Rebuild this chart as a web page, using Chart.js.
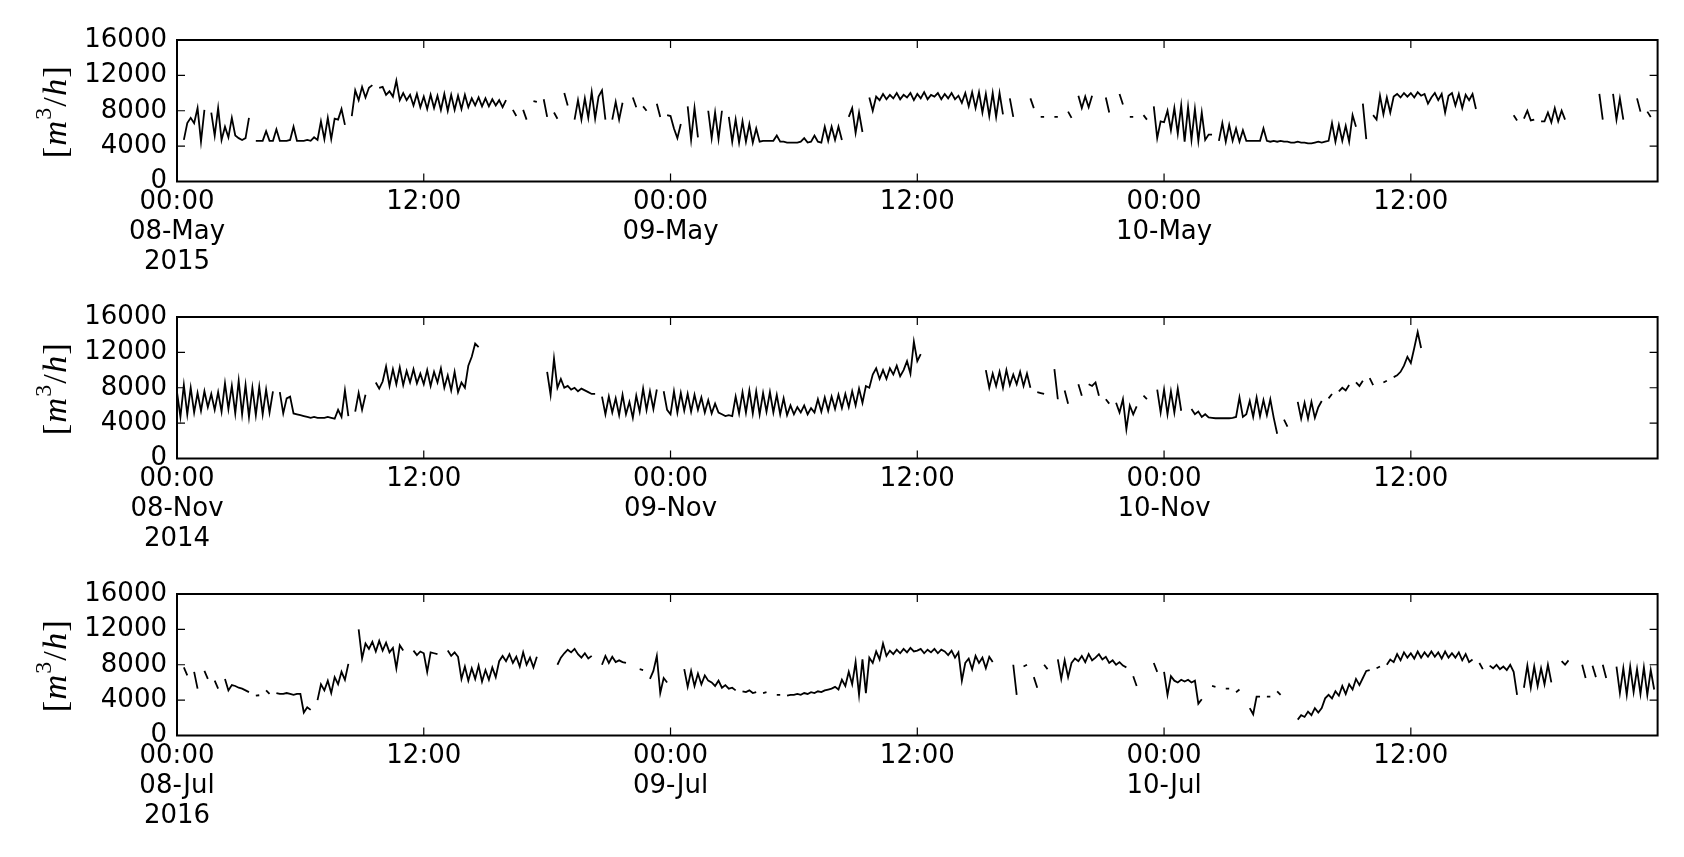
<!DOCTYPE html>
<html>
<head>
<meta charset="utf-8">
<script src="https://cdn.jsdelivr.net/npm/chart.js@4.4.1/dist/chart.umd.min.js"></script>
<style>
  html, body { margin: 0; padding: 0; background: #fff; }
  body { width: 1684px; height: 857px; position: relative; overflow: hidden; }
  .panel { position: absolute; left: 0; width: 1684px; height: 276px; }
</style>
</head>
<body>
<div class="panel" style="top:0px"><canvas id="c1" width="1684" height="276"></canvas></div>
<div class="panel" style="top:276.8px"><canvas id="c2" width="1684" height="276"></canvas></div>
<div class="panel" style="top:553.5px"><canvas id="c3" width="1684" height="276"></canvas></div>
<script>
const _ = null;

// sampling step of the series, in hours (10 minutes)
const stepHours = 1 / 6;

// y axis ticks
const yTicks = [0, 4000, 8000, 12000, 16000];

// x axis tick positions (hours since 00:00 of the first day)
const tickHours = [0, 12, 24, 36, 48, 60];

// x tick labels per panel
const ticksMay2015 = [["00:00", "08-May", "2015"], "12:00", ["00:00", "09-May"], "12:00", ["00:00", "10-May"], "12:00"];
const ticksNov2014 = [["00:00", "08-Nov", "2014"], "12:00", ["00:00", "09-Nov"], "12:00", ["00:00", "10-Nov"], "12:00"];
const ticksJul2016 = [["00:00", "08-Jul", "2016"], "12:00", ["00:00", "09-Jul"], "12:00", ["00:00", "10-Jul"], "12:00"];

// flow [m3/h], one row per hour, six 10-minute samples per row
const flowMay2015 = [
  _, _, 4700, 6600, 7200, 6600,
  8300, 4500, 8100, _, 7800, 5200,
  8300, 4700, 6200, 5000, 7200, 5200,
  4900, 4700, 4900, 7200, _, 4600,
  4600, 4600, 5700, 4600, 4600, 5900,
  4600, 4600, 4600, 4700, 6200, 4600,
  4600, 4600, 4700, 4600, 5000, 4700,
  6800, 4800, 7200, 4800, 7100, 7000,
  8200, 6400, _, 7400, 10300, 9200,
  10700, 9500, 10600, 10900, _, 10600,
  10700, 9800, 10200, 9600, 11400, 9200,
  10000, 9200, 9800, 8600, 9900, 8400,
  9600, 8200, 9800, 8300, 9700, 8100,
  9900, 8000, 9800, 8100, 9700, 8200,
  9800, 8400, 9400, 8600, 9500, 8500,
  9400, 8500, 9300, 8600, 9200, 8400,
  9200, _, 8100, 7400, _, 8100,
  7000, _, 9100, 9000, _, 9300,
  7300, _, 7800, 7100, _, 10000,
  8600, _, 7000, 9200, 7000, 9400,
  7200, 10100, 7100, 9600, 10300, 7000,
  _, 7000, 9000, 7000, 8900, _,
  _, 9500, 8400, _, 8500, 8000,
  _, _, 8800, 7300, _, 7500,
  7400, 6000, 4900, 6500, _, 8500,
  4700, 8300, 5000, _, _, 8000,
  4900, 7800, 4800, 8000, _, 7300,
  4500, 7000, 4400, 6800, 4500, 6500,
  4400, 6000, 4500, 4600, 4600, 4600,
  4600, 5200, 4500, 4500, 4400, 4400,
  4400, 4400, 4500, 4900, 4400, 4500,
  5200, 4500, 4400, 6200, 4600, 6200,
  4700, 6200, 4700, _, 7300, 8300,
  5500, 7800, 5600, _, 9500, 8000,
  9600, 9200, 9900, 9300, 9800, 9400,
  10000, 9300, 9800, 9500, 10000, 9200,
  9900, 9400, 10100, 9300, 9800, 9600,
  10000, 9300, 9900, 9400, 10000, 9300,
  9700, 8900, 10000, 8500, 10100, 8300,
  10100, 7800, 9900, 7400, 10000, 7300,
  10000, 7600, _, 9400, 7300, _,
  _, _, _, 9400, 8300, _,
  7300, 7300, _, _, 7300, 7300,
  _, _, 7900, 7200, _, 9700,
  8300, 9600, 8400, 9700, _, _,
  _, 9500, 7800, _, _, 9900,
  8700, _, 7300, 7300, _, _,
  7500, 7000, _, 8500, 4900, 6800,
  6700, 8000, 5800, 8300, 5400, 8600,
  4500, 8400, 4700, 8200, 4600, 7800,
  4700, 5300, 5300, _, 4600, 6600,
  4500, 6400, 4600, 6000, 4500, 5800,
  4600, 4600, 4600, 4600, 4600, 6000,
  4600, 4500, 4600, 4500, 4600, 4500,
  4500, 4400, 4400, 4500, 4400, 4400,
  4300, 4300, 4400, 4500, 4400, 4500,
  4600, 6600, 4500, 6400, 4600, 6300,
  4500, 7500, 6200, _, 8800, 4800,
  _, 7500, 7000, 9700, 7600, 9500,
  7800, 9600, 9900, 9500, 10000, 9600,
  10000, 9500, 10100, 9700, 9900, 8800,
  9500, 10000, 9200, 9900, 7800, 9700,
  10000, 8600, 9900, 8300, 9800, 9200,
  9900, 8200, _, _, _, _,
  _, _, _, _, _, _,
  7500, 6900, _, 7100, 8000, 6900,
  7000, _, 6800, 6800, 7800, 6700,
  8300, 6800, 8000, 7000, _, _,
  _, _, _, _, _, _,
  _, 9900, 7000, _, _, 9900,
  7000, 9400, 7000, _, _, _,
  9400, 7900, _, 7900, 7300, _
];

const flowNov2014 = [
  7500, 4700, 8300, 5000, 8000, 5200,
  7400, 5400, 7600, 5800, 7300, 5500,
  7500, 5300, 8500, 5600, 8200, 5100,
  8800, 5000, 8300, 4700, 8000, 4900,
  8100, 5000, 7800, 5200, 7600, _,
  7500, 5100, 6800, 7000, 5100, 5000,
  4900, 4800, 4700, 4600, 4700, 4600,
  4600, 4600, 4700, 4600, 4500, 5500,
  4700, 7700, 4800, _, 5300, 7400,
  5500, 7200, _, _, 8600, 7900,
  8700, 10400, 8200, 10100, 8400, 10300,
  8300, 9900, 8600, 10100, 8500, 9600,
  8400, 10000, 8200, 9800, 8600, 10200,
  8000, 9400, 7700, 9800, 7500, 8600,
  8000, 10500, 11500, 13000, 12600, _,
  _, _, _, _, _, _,
  _, _, _, _, _, _,
  _, _, _, _, _, _,
  9800, 7200, 11300, 8000, 9000, 8000,
  8200, 7800, 8000, 7600, 7900, 7700,
  7500, 7300, 7300, _, 7000, 5000,
  7000, 5200, 6800, 4900, 7200, 5000,
  6400, 4600, 7100, 5300, 7900, 5500,
  7600, 5600, 7800, _, 7600, 5500,
  5000, 7600, 5200, 7400, 5400, 7300,
  5300, 7200, 5500, 6900, 5200, 6600,
  5100, 6200, 5200, 5000, 4800, 4900,
  4800, 7000, 5100, 7500, 5200, 7700,
  5100, 7600, 5000, 7400, 5300, 7500,
  5200, 7200, 5000, 6800, 4900, 6000,
  5000, 5800, 5200, 6000, 5000, 5700,
  5200, 6700, 5300, 6900, 5400, 7000,
  5600, 7200, 5700, 7300, 5800, 7600,
  6000, 7900, 6300, 8200, 8000, 9500,
  10200, 9000, 10000, 9000, 10200, 9500,
  10500, 9300, 10000, 11000, 9600, 13200,
  11000, 11800, _, _, _, _,
  _, _, _, _, _, _,
  _, _, _, _, _, _,
  _, _, 10000, 8000, 9600, 8200,
  9800, 8000, 10000, 8300, 9500, 8400,
  9800, 8200, 9600, 8000, _, 7500,
  7400, 7300, _, _, 10100, 6700,
  _, 7700, 6200, _, _, 8400,
  7100, _, 8400, 8200, 8600, 7100,
  _, 6700, 6200, _, 6300, 5200,
  6700, 3300, 6000, 5000, 5900, _,
  7100, 6700, _, _, 7800, 5200,
  7800, 5000, 7600, 5200, 7900, 5400,
  _, _, 5600, 5000, 5300, 4700,
  5000, 4650, 4600, 4550, 4550, 4550,
  4550, 4550, 4600, 4700, 6900, 4700,
  5000, 6500, 4700, 6900, 4800, 6600,
  4900, 6700, 4600, 2800, _, 4400,
  3600, _, _, 6400, 4500, 6300,
  4500, 6400, 4600, 5800, 6500, _,
  6800, 7300, _, 7600, 8000, 7700,
  8300, _, 8600, 8200, 8800, _,
  9100, 8300, _, _, 8600, 8800,
  _, 9200, 9400, 9800, 10500, 11500,
  10800, 12500, 14300, 12500, _, _,
  _, _, _, _, _, _,
  _, _, _, _, _, _,
  _, _, _, _, _, _,
  _, _, _, _, _, _,
  _, _, _, _, _, _,
  _, _, _, _, _, _,
  _, _, _, _, _, _,
  _, _, _, _, _, _,
  _, _, _, _, _, _,
  _, _, _, _, _, _,
  _, _, _, _, _, _
];

const flowJul2016 = [
  _, _, 7700, 6800, _, 7200,
  5300, _, 7300, 6400, _, 6200,
  5300, _, 6400, 5100, 5700, 5600,
  5400, 5300, 5100, 4900, _, 4500,
  4550, _, 5100, 4700, _, 4800,
  4700, 4700, 4800, 4700, 4600, 4700,
  4700, 2600, 3200, 2900, _, 4000,
  5800, 5100, 6200, 4800, 6600, 5800,
  7200, 6300, 8100, _, _, 12000,
  8700, 10400, 9800, 10600, 9500, 10700,
  9600, 10500, 9400, 9900, 7600, 10200,
  9600, _, _, 9600, 9100, 9500,
  9300, 7200, 9400, 9300, 9200, _,
  _, 9600, 9000, 9400, 8900, 6400,
  7800, 6200, 7600, 6400, 7900, 6100,
  7400, 6300, 7700, 6600, 8400, 9000,
  8400, 9200, 8200, 8900, 7800, 9400,
  8000, 8800, 7700, 8900, _, _,
  _, _, _, 8000, 8800, 9300,
  9700, 9400, 9800, 9200, 8800, 9300,
  8700, 9000, _, _, 8000, 9000,
  8200, 8900, 8300, 8500, 8300, 8200,
  _, _, _, 7500, 7400, _,
  6400, 7300, 9000, 4800, 6500, 6000,
  _, _, _, _, 7500, 5500,
  7300, 5600, 7000, 5800, 6800, 6200,
  6000, 5600, 6200, 5400, 5700, 5300,
  5400, 5100, _, 5000, 4900, 5100,
  4800, 4900, _, 4800, 4900, _,
  _, 4600, 4600, _, 4500, 4600,
  4600, 4700, 4600, 4800, 4700, 4900,
  4800, 5000, 4900, 5100, 5200, 5300,
  5500, 5200, 6300, 5600, 7200, 5800,
  8300, 4600, 8600, 4800, 8800, 8200,
  9500, 8600, 10400, 9000, 9600, 9200,
  9700, 9300, 9800, 9400, 9900, 9500,
  9600, 9800, 9300, 9700, 9400, 9800,
  9300, 9700, 9500, 9100, 9600, 8800,
  9400, 6200, 8200, 8700, 7500, 9000,
  8200, 8800, 7600, 8900, 8300, _,
  _, _, _, _, 8000, 4600,
  _, 7800, 8000, _, 6600, 5400,
  _, 8000, 7500, _, _, 8600,
  6400, 8500, 6600, 8200, 8700, 8400,
  9000, 8300, 9200, 8500, 8800, 9200,
  8600, 8900, 8200, 8500, 8000, 8300,
  7900, 7700, _, 6700, 5600, _,
  _, _, _, 8200, 7200, _,
  7200, 4600, 6700, 6200, 6000, 6300,
  6100, 6300, 6000, 6200, 3600, 4100,
  _, _, 5600, 5500, _, _,
  5300, 5300, _, 4900, 5200, _,
  _, 3100, 2400, 4400, 4400, _,
  4400, 4400, _, 5000, 4600, _,
  _, _, _, 1800, 2300, 2100,
  2700, 2300, 3100, 2600, 3100, 4200,
  4600, 4200, 5000, 4500, 5600, 4700,
  5800, 5200, 6400, 5700, 6500, 7300,
  7400, _, 7600, 7800, _, 8000,
  8600, 8300, 9200, 8500, 9400, 8800,
  9300, 8700, 9500, 8800, 9400, 8900,
  9500, 8900, 9400, 8700, 9500, 8800,
  9300, 8800, 9400, 8500, 9200, 8300,
  8600, _, 8200, 7500, _, 7900,
  7600, 8000, 7500, 7800, 7400, 8000,
  7200, 4600, _, 5400, 7900, 5400,
  7800, 5600, 7600, 5800, 8000, 6000,
  _, _, 8400, 8000, 8500, _,
  _, _, 8000, 6500, _, 7900,
  6600, _, 8000, 6500, _, _,
  7800, 4800, 7600, 4600, 7800, 4900,
  7500, 4700, 7700, 4600, 7400, 5200
];

const tickFont = { family: '"DejaVu Sans", sans-serif', size: 26, lineHeight: 1.154 };

const framePlugin = {
  id: 'mplFrame',
  afterDraw(chart) {
    const { ctx, chartArea: a, scales } = chart;
    const xs = scales.x, ys = scales.y;
    ctx.save();
    ctx.strokeStyle = '#000';
    ctx.lineWidth = 1.2;
    ctx.beginPath();
    for (const v of yTicks) {
      const py = ys.getPixelForValue(v);
      ctx.moveTo(a.left, py); ctx.lineTo(a.left + 8, py);
      ctx.moveTo(a.right, py); ctx.lineTo(a.right - 8, py);
    }
    for (const h of tickHours) {
      const px = xs.getPixelForValue(h);
      ctx.moveTo(px, a.top); ctx.lineTo(px, a.top + 8);
      ctx.moveTo(px, a.bottom); ctx.lineTo(px, a.bottom - 8);
    }
    ctx.stroke();
    ctx.lineWidth = 2;
    ctx.strokeRect(a.left, a.top, a.right - a.left, a.bottom - a.top);

    // y axis label  [m^3/h], sized to span about 92 px along the axis
    const fam = '"Liberation Serif", "DejaVu Serif", serif';
    const target = 92;
    let size = 37;
    const build = (s) => [
      { t: '[', f: s + 'px ' + fam, dy: 0 },
      { t: 'm', f: 'italic ' + s + 'px ' + fam, dy: 0 },
      { t: '3', f: Math.round(s * 0.7) + 'px ' + fam, dy: -0.42 * s },
      { t: '/', f: s + 'px ' + fam, dy: 0 },
      { t: 'h', f: 'italic ' + s + 'px ' + fam, dy: 0 },
      { t: ']', f: s + 'px ' + fam, dy: 0 }
    ];
    let segs = build(size);
    const measure = (list) => { let w = 0; for (const s of list) { ctx.font = s.f; s.w = ctx.measureText(s.t).width; w += s.w; } return w; };
    let sum = measure(segs);
    let gap = (target - sum) / (segs.length - 1);
    if (gap < 1) {
      size = size * (target - 5) / sum;
      segs = build(size);
      sum = measure(segs);
      gap = (target - sum) / (segs.length - 1);
    }
    const total = sum + gap * (segs.length - 1);
    ctx.translate(66, (a.top + a.bottom) / 2 + 1.5);
    ctx.rotate(-Math.PI / 2);
    ctx.fillStyle = '#000';
    ctx.textBaseline = 'alphabetic';
    ctx.textAlign = 'left';
    let cx = -total / 2;
    for (const s of segs) { ctx.font = s.f; ctx.fillText(s.t, cx, s.dy); cx += s.w + gap; }
    ctx.restore();
  }
};

function makeChart(id, values, labels) {
  const pts = values.map((v, i) => ({ x: i * stepHours, y: v }));
  return new Chart(document.getElementById(id), {
    type: 'line',
    data: {
      datasets: [{
        data: pts,
        borderColor: '#000',
        borderWidth: 1.8,
        pointRadius: 0,
        spanGaps: false,
        tension: 0,
        fill: false
      }]
    },
    options: {
      responsive: false,
      animation: false,
      events: [],
      layout: { padding: { top: 40, left: 0, right: 26.4, bottom: 0 } },
      plugins: { legend: { display: false }, tooltip: { enabled: false } },
      scales: {
        x: {
          type: 'linear',
          min: 0,
          max: 72,
          grid: { display: false, drawTicks: false },
          border: { display: false },
          afterBuildTicks: (scale) => { scale.ticks = tickHours.map(v => ({ value: v })); },
          afterFit: (scale) => { scale.height = 94.5; },
          ticks: {
            autoSkip: false,
            maxRotation: 0,
            minRotation: 0,
            padding: 6,
            color: '#000',
            font: tickFont,
            callback: (v) => { const k = tickHours.indexOf(v); return k >= 0 ? labels[k] : ''; }
          }
        },
        y: {
          min: 0,
          max: 16000,
          grid: { display: false, drawTicks: false },
          border: { display: false },
          afterBuildTicks: (scale) => { scale.ticks = yTicks.map(v => ({ value: v })); },
          afterFit: (scale) => { scale.width = 177; },
          ticks: {
            padding: 10,
            color: '#000',
            font: tickFont,
            callback: (v) => String(v)
          }
        }
      }
    },
    plugins: [framePlugin]
  });
}

makeChart('c1', flowMay2015, ticksMay2015);
makeChart('c2', flowNov2014, ticksNov2014);
makeChart('c3', flowJul2016, ticksJul2016);
</script>
</body>
</html>
